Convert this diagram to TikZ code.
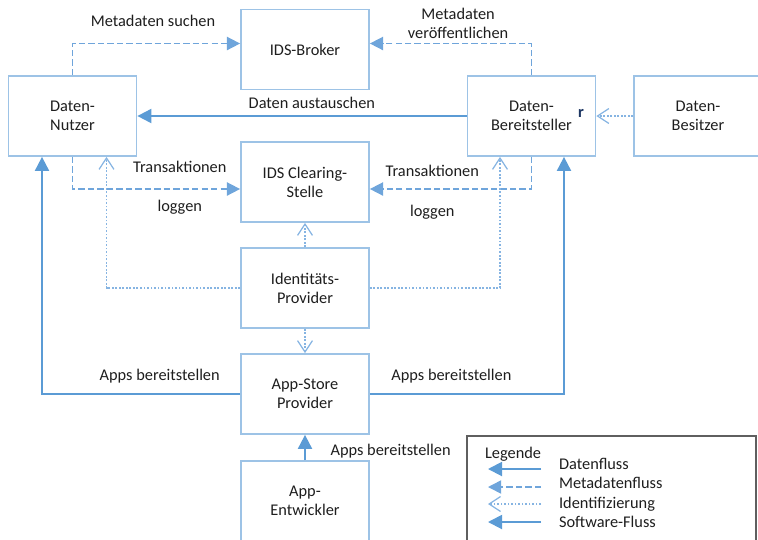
\documentclass[tikz,border=0pt]{standalone}
\usepackage{fontspec}
\setmainfont{Carlito}
\usetikzlibrary{arrows.meta, positioning, calc}
\definecolor{boxline}{HTML}{9DC3E6}
\definecolor{flowline}{HTML}{5B9BD5}
\definecolor{metaline}{HTML}{6FA5DB}
\definecolor{identline}{HTML}{86B4E2}
\definecolor{legendline}{HTML}{5F5F5F}
\definecolor{schrift}{HTML}{1E1E1E}
\definecolor{stray}{HTML}{1F3864}
\tikzstyle{actor} = [rectangle, draw=boxline, line width=1pt, fill=white,
  align=center, text=schrift, font=\fontsize{9.3}{10.8}\selectfont,
  minimum width=2.56cm, minimum height=1.6cm]
\tikzstyle{lbl} = [font=\fontsize{9.3}{10.8}\selectfont, text=schrift, inner sep=1pt, align=center]
\tikzstyle{datenfluss} = [-{Triangle[length=8pt, width=8pt]}, color=flowline, line width=1.1pt]
\tikzstyle{metafluss} = [-{Triangle[length=7.5pt, width=7.5pt]}, color=metaline, line width=0.9pt,
  dash pattern=on 3.6pt off 1.8pt]
\tikzstyle{identfluss} = [-{Straight Barb[length=6.5pt, width=8.5pt, line width=0.7pt]}, color=identline,
  line width=0.9pt, dash pattern=on 1pt off 1pt]
\tikzstyle{softfluss} = [datenfluss]

\begin{document}
\begin{tikzpicture}[x=0.02cm, y=-0.02cm]
  \useasboundingbox (0,0) rectangle (758,539);
  \clip (0,0) rectangle (758,539);

  % Teilnehmer
  \node[actor] (broker)   at (305,49.5)  {IDS-Broker};
  \node[actor] (nutzer)   at (72.5,116)  {Daten-\\Nutzer};
  \node[actor] (bereit)   at (531.5,116) {Daten-\\Bereitsteller};
  \node[actor] (besitzer) at (698,116)   {Daten-\\Besitzer};
  \node[actor] (clear)    at (305,182)   {IDS Clearing-\\Stelle};
  \node[actor] (ident)    at (305,288)   {Identitäts-\\Provider};
  \node[actor] (app)      at (305,394)   {App-Store\\Provider};
  \node[actor] (entw)     at (305,501)   {App-\\Entwickler};
  \node[lbl, text=stray, font=\fontsize{9.3}{10.8}\selectfont\bfseries] (r) at (581,113) {r};

  % Metadaten
  \draw[metafluss] (nutzer.north) |- node[lbl, pos=0.74, above=8pt] {Metadaten suchen}
    ($(broker.west)+(0,-6)$);
  \draw[metafluss] (bereit.north) |- node[lbl, pos=0.727, above=1.5pt] {Metadaten\\veröffentlichen}
    ($(broker.east)+(0,-6)$);
  \draw[metafluss] (nutzer.south) |- node[lbl, pos=0.82, above=8pt] {Transaktionen}
    node[lbl, pos=0.82, below=5pt] {loggen} ($(clear.west)+(0,7)$);
  \draw[metafluss] (bereit.south) |- node[lbl, pos=0.807, above=5.8pt] {Transaktionen}
    node[lbl, pos=0.807, below=8pt] {loggen} ($(clear.east)+(0,7)$);

  % Daten
  \draw[datenfluss] (bereit.west) -- node[lbl, pos=0.47, above=2.5pt] {Daten austauschen} (nutzer.east);

  % Identifizierung
  \draw[identfluss] (besitzer.west) -- (bereit.east);
  \draw[identfluss] (ident.west) -| ($(nutzer.south)+(34,0)$);
  \draw[identfluss] (ident.east) -| ($(bereit.south)+(-31.5,0)$);
  \draw[identfluss] (ident.north) -- (clear.south);
  \draw[identfluss] (ident.south) -- (app.north);

  % Software
  \draw[softfluss] (app.west) -| node[lbl, pos=0.203, above=4.7pt] {Apps bereitstellen}
    ($(nutzer.south)+(-30.5,0)$);
  \draw[softfluss] (app.east) -| node[lbl, pos=0.21, above=4.7pt] {Apps bereitstellen}
    ($(bereit.south)+(32.5,0)$);
  \draw[softfluss] (entw.north) -- node[lbl, pos=0.37, right=13pt] {Apps bereitstellen} (app.south);

  % Legende
  \node[draw=legendline, line width=1.2pt, minimum width=5.78cm, minimum height=2.2cm] (legende) at (611.5,491) {};
  \node[lbl, anchor=base west] (legtitel) at (483,458) {Legende};
  \foreach \y/\yt/\stil/\txt [count=\i] in {469/469/datenfluss/Datenfluss,
      487/488.5/metafluss/Metadatenfluss, 504/508/identfluss/Identifizierung,
      522/527.5/softfluss/Software-Fluss} {
    \coordinate (von\i) at (541,\y);
    \coordinate (bis\i) at (488,\y);
    \draw[\stil] (von\i) -- (bis\i);
    \node[lbl, anchor=base west] (eintrag\i) at (557,\yt) {\txt};
  }

\end{tikzpicture}
\end{document}
